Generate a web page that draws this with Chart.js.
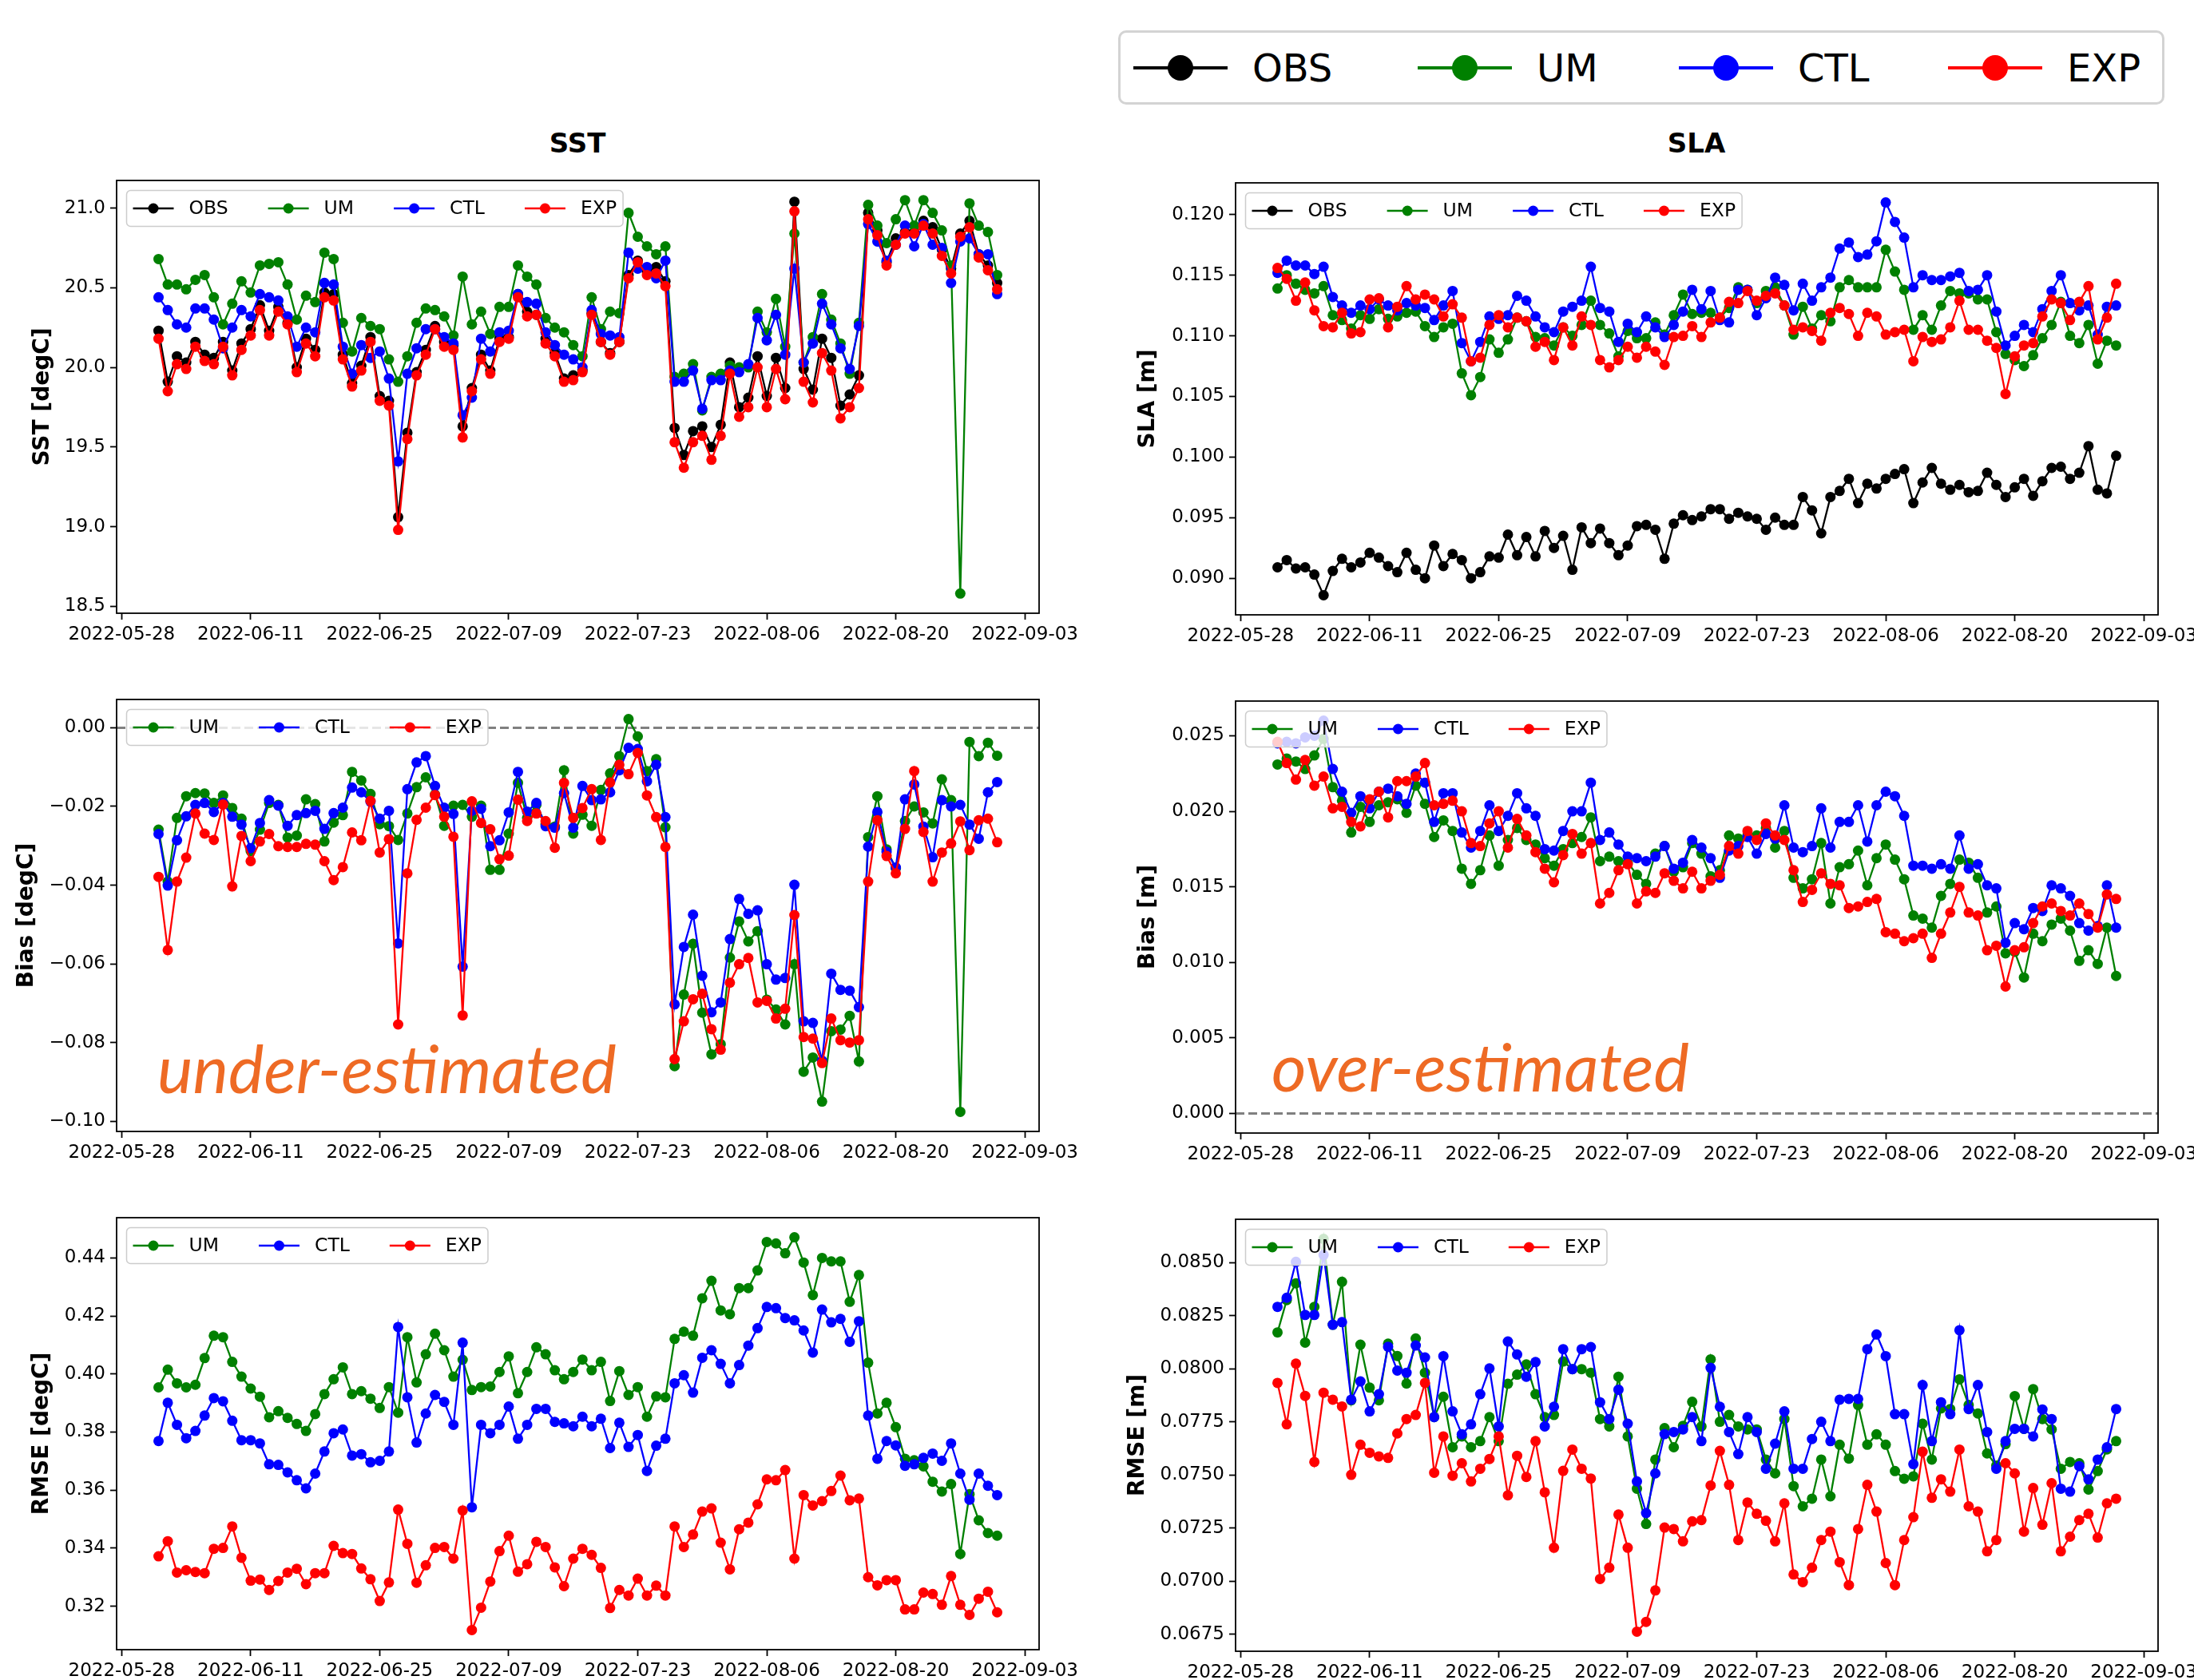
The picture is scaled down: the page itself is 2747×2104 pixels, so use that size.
<!DOCTYPE html>
<html>
<head>
<meta charset="utf-8">
<title>SST / SLA verification</title>
<script src="https://cdn.jsdelivr.net/npm/chart.js@4.4.0/dist/chart.umd.min.js"></script>
<style>
  html, body { margin:0; padding:0; background:#fff; width:2747px; height:2104px; overflow:hidden; position:relative; }
  .colTitle { position:absolute; font: bold 34px "DejaVu Sans"; transform: translate(-50%, -50%); color:#000; }
  .note { position:absolute; font-family: Lato, "Open Sans", sans-serif; font-style: italic; font-size: 84px; line-height: 84px; color:#EE6A24; white-space: nowrap; }
  #bigLegend { position:absolute; left:1400px; top:38px; width:1310px; height:93px; box-sizing:border-box; border:3px solid #d3d3d3; border-radius:10px; font: 48px "DejaVu Sans"; color:#000; }
  .item { position:absolute; top:0; height:87px; display:flex; align-items:center; }
  .handle { position:relative; width:118px; height:32px; margin-right:31px; }
  .handle .ln { position:absolute; left:0; right:0; top:14px; height:4px; }
  .handle .dot { position:absolute; left:43px; top:0; width:32px; height:32px; border-radius:50%; }
</style>
</head>
<body>
<div class="colTitle" style="left:723px; top:179px;">SST</div>
<div class="colTitle" style="left:2124px; top:179px;">SLA</div>
<div id="bigLegend"></div>
<div class="note" style="left:197px; top:1295px;">under-estimated</div>
<div class="note" style="left:1592px; top:1293px;">over-estimated</div>
<script>
var seriesNames = ['OBS', 'UM', 'CTL', 'EXP'];
var seriesColors = {OBS: '#000000', UM: '#008000', CTL: '#0000ff', EXP: '#ff0000'};

// daily dates, 2022-06-01 .. 2022-08-31
var dates = [];
for (var i = 0; i < 92; i++) {
  dates.push(new Date(Date.UTC(2022, 5, 1 + i)).toISOString().slice(0, 10));
}
var xTickDates = ['2022-05-28', '2022-06-11', '2022-06-25', '2022-07-09', '2022-07-23', '2022-08-06', '2022-08-20', '2022-09-03'];

// ---- SST [degC]
var sstObs = [20.23, 19.91, 20.07, 20.03, 20.16, 20.08, 20.06, 20.16, 19.98, 20.15,
  20.24, 20.39, 20.23, 20.38, 20.28, 20.00, 20.18, 20.11, 20.47, 20.46,
  20.08, 19.90, 20.01, 20.19, 19.82, 19.79, 19.06, 19.59, 19.97, 20.11,
  20.26, 20.16, 20.14, 19.63, 19.87, 20.08, 19.98, 20.18, 20.19, 20.46,
  20.35, 20.33, 20.18, 20.09, 19.93, 19.95, 19.98, 20.34, 20.16, 20.09,
  20.16, 20.58, 20.67, 20.60, 20.63, 20.54, 19.62, 19.45, 19.60, 19.63,
  19.50, 19.64, 20.03, 19.75, 19.81, 20.07, 19.82, 20.06, 19.87, 21.04,
  19.99, 19.86, 20.18, 20.06, 19.76, 19.83, 19.95, 20.97, 20.86, 20.66,
  20.81, 20.85, 20.85, 20.92, 20.88, 20.74, 20.62, 20.84, 20.92, 20.71,
  20.64, 20.53];
var sstUm = [20.68, 20.52, 20.52, 20.49, 20.55, 20.58, 20.44, 20.27, 20.40, 20.54,
  20.47, 20.64, 20.65, 20.66, 20.52, 20.30, 20.45, 20.41, 20.72, 20.68,
  20.28, 20.10, 20.31, 20.26, 20.24, 20.05, 19.91, 20.07, 20.28, 20.37,
  20.36, 20.32, 20.20, 20.57, 20.27, 20.35, 20.21, 20.38, 20.38, 20.64,
  20.57, 20.52, 20.31, 20.25, 20.22, 20.14, 20.07, 20.44, 20.24, 20.35,
  20.34, 20.97, 20.82, 20.76, 20.71, 20.76, 19.94, 19.96, 20.02, 19.73,
  19.94, 19.96, 20.01, 20.00, 20.00, 20.35, 20.22, 20.43, 20.13, 20.84,
  20.03, 20.19, 20.46, 20.30, 20.15, 19.96, 20.28, 21.02, 20.89, 20.78,
  20.93, 21.05, 20.89, 21.05, 20.97, 20.86, 20.64, 18.58, 21.03, 20.89,
  20.85, 20.58];
var sstCtl = [20.44, 20.36, 20.27, 20.25, 20.37, 20.37, 20.30, 20.12, 20.25, 20.36,
  20.32, 20.46, 20.44, 20.42, 20.32, 20.13, 20.25, 20.22, 20.53, 20.52,
  20.13, 19.96, 20.14, 20.06, 20.10, 19.93, 19.41, 19.96, 20.12, 20.24,
  20.24, 20.19, 20.15, 19.70, 19.81, 20.18, 20.10, 20.22, 20.23, 20.46,
  20.41, 20.40, 20.22, 20.14, 20.08, 20.05, 20.00, 20.36, 20.21, 20.20,
  20.19, 20.72, 20.62, 20.63, 20.56, 20.67, 19.91, 19.91, 19.98, 19.74,
  19.92, 19.92, 19.98, 19.97, 20.02, 20.31, 20.17, 20.33, 20.08, 20.62,
  20.03, 20.15, 20.40, 20.27, 20.12, 19.99, 20.26, 20.90, 20.79, 20.67,
  20.77, 20.89, 20.76, 20.90, 20.77, 20.75, 20.53, 20.79, 20.81, 20.71,
  20.71, 20.46];
var sstExp = [20.18, 19.85, 20.02, 19.99, 20.13, 20.04, 20.02, 20.13, 19.95, 20.11,
  20.20, 20.36, 20.20, 20.35, 20.27, 19.97, 20.15, 20.07, 20.44, 20.42,
  20.05, 19.88, 19.98, 20.16, 19.79, 19.76, 18.98, 19.55, 19.95, 20.08,
  20.24, 20.13, 20.11, 19.56, 19.85, 20.05, 19.96, 20.16, 20.18, 20.44,
  20.32, 20.33, 20.15, 20.07, 19.91, 19.92, 19.97, 20.33, 20.16, 20.08,
  20.16, 20.56, 20.66, 20.58, 20.59, 20.51, 19.53, 19.37, 19.53, 19.57,
  19.42, 19.57, 19.96, 19.69, 19.75, 20.00, 19.75, 19.99, 19.80, 20.98,
  19.91, 19.78, 20.09, 19.98, 19.68, 19.75, 19.87, 20.93, 20.83, 20.64,
  20.77, 20.84, 20.84, 20.89, 20.84, 20.70, 20.59, 20.82, 20.88, 20.69,
  20.61, 20.49];

// ---- SLA [m]
var slaObs = [0.0909, 0.0915, 0.0908, 0.0909, 0.0903, 0.0886, 0.0906, 0.0916, 0.0909, 0.0913,
  0.0921, 0.0917, 0.0910, 0.0905, 0.0921, 0.0907, 0.0900, 0.0927, 0.0910, 0.0920,
  0.0915, 0.0900, 0.0905, 0.0918, 0.0917, 0.0936, 0.0919, 0.0934, 0.0918, 0.0939,
  0.0925, 0.0935, 0.0907, 0.0942, 0.0929, 0.0941, 0.0929, 0.0919, 0.0927, 0.0943,
  0.0944, 0.0940, 0.0916, 0.0945, 0.0952, 0.0948, 0.0951, 0.0957, 0.0957, 0.0949,
  0.0954, 0.0951, 0.0949, 0.0940, 0.0950, 0.0944, 0.0944, 0.0967, 0.0956, 0.0937,
  0.0967, 0.0972, 0.0982, 0.0962, 0.0978, 0.0974, 0.0982, 0.0986, 0.0990, 0.0962,
  0.0979, 0.0991, 0.0978, 0.0973, 0.0977, 0.0971, 0.0972, 0.0987, 0.0977, 0.0967,
  0.0975, 0.0982, 0.0968, 0.0980, 0.0991, 0.0992, 0.0982, 0.0987, 0.1009, 0.0973,
  0.0970, 0.1001];
var slaUm = [0.1139, 0.1150, 0.1143, 0.1138, 0.1135, 0.1141, 0.1117, 0.1113, 0.1106, 0.1117,
  0.1114, 0.1122, 0.1114, 0.1116, 0.1119, 0.1120, 0.1108, 0.1099, 0.1107, 0.1110,
  0.1069, 0.1051, 0.1066, 0.1097, 0.1086, 0.1097, 0.1115, 0.1112, 0.1099, 0.1098,
  0.1092, 0.1107, 0.1100, 0.1109, 0.1129, 0.1109, 0.1102, 0.1083, 0.1104, 0.1098,
  0.1098, 0.1111, 0.1101, 0.1117, 0.1134, 0.1118, 0.1119, 0.1119, 0.1115, 0.1123,
  0.1140, 0.1138, 0.1127, 0.1137, 0.1140, 0.1125, 0.1101, 0.1124, 0.1106, 0.1117,
  0.1112, 0.1140, 0.1146, 0.1140, 0.1140, 0.1140, 0.1171, 0.1153, 0.1138, 0.1105,
  0.1117, 0.1105, 0.1125, 0.1137, 0.1135, 0.1135, 0.1130, 0.1130, 0.1103, 0.1085,
  0.1080, 0.1075, 0.1084, 0.1098, 0.1109, 0.1128, 0.1100, 0.1094, 0.1109, 0.1077,
  0.1096, 0.1092];
var slaCtl = [0.1152, 0.1162, 0.1158, 0.1158, 0.1151, 0.1157, 0.1132, 0.1125, 0.1119, 0.1125,
  0.1122, 0.1130, 0.1125, 0.1121, 0.1127, 0.1125, 0.1123, 0.1113, 0.1125, 0.1137,
  0.1094, 0.1079, 0.1095, 0.1116, 0.1114, 0.1117, 0.1133, 0.1129, 0.1116, 0.1107,
  0.1103, 0.1120, 0.1124, 0.1129, 0.1157, 0.1123, 0.1120, 0.1095, 0.1110, 0.1103,
  0.1116, 0.1107, 0.1099, 0.1109, 0.1120, 0.1138, 0.1122, 0.1137, 0.1113, 0.1111,
  0.1138, 0.1138, 0.1117, 0.1131, 0.1148, 0.1142, 0.1121, 0.1143, 0.1129, 0.1140,
  0.1148, 0.1172, 0.1177, 0.1165, 0.1167, 0.1178, 0.1210, 0.1194, 0.1181, 0.1140,
  0.1150, 0.1146, 0.1146, 0.1149, 0.1152, 0.1137, 0.1138, 0.1150, 0.1120, 0.1092,
  0.1100, 0.1109, 0.1103, 0.1122, 0.1137, 0.1150, 0.1127, 0.1121, 0.1125, 0.1101,
  0.1124, 0.1125];
var slaExp = [0.1156, 0.1147, 0.1129, 0.1144, 0.1121, 0.1108, 0.1107, 0.1119, 0.1102, 0.1103,
  0.1130, 0.1131, 0.1107, 0.1124, 0.1141, 0.1130, 0.1134, 0.1130, 0.1116, 0.1126,
  0.1115, 0.1079, 0.1082, 0.1109, 0.1117, 0.1107, 0.1115, 0.1112, 0.1091, 0.1095,
  0.1080, 0.1107, 0.1092, 0.1116, 0.1109, 0.1080, 0.1074, 0.1080, 0.1091, 0.1082,
  0.1091, 0.1087, 0.1076, 0.1099, 0.1100, 0.1108, 0.1099, 0.1111, 0.1115, 0.1128,
  0.1127, 0.1137, 0.1129, 0.1133, 0.1135, 0.1125, 0.1105, 0.1107, 0.1104, 0.1096,
  0.1119, 0.1123, 0.1118, 0.1100, 0.1119, 0.1116, 0.1101, 0.1103, 0.1105, 0.1079,
  0.1099, 0.1095, 0.1097, 0.1107, 0.1129, 0.1105, 0.1105, 0.1096, 0.1090, 0.1052,
  0.1083, 0.1092, 0.1094, 0.1116, 0.1130, 0.1127, 0.1113, 0.1128, 0.1141, 0.1097,
  0.1115, 0.1143];

// ---- SST bias [degC]
var biasSstUm = [-0.0259, -0.0391, -0.0229, -0.0174, -0.0166, -0.0167, -0.0191, -0.0172, -0.0204, -0.0231,
  -0.0313, -0.0259, -0.0191, -0.0196, -0.0279, -0.0274, -0.0182, -0.0194, -0.0289, -0.0241,
  -0.0222, -0.0112, -0.0134, -0.0168, -0.0245, -0.0250, -0.0285, -0.0218, -0.0151, -0.0126,
  -0.0170, -0.0249, -0.0198, -0.0196, -0.0226, -0.0198, -0.0361, -0.0361, -0.0269, -0.0140,
  -0.0229, -0.0196, -0.0245, -0.0251, -0.0108, -0.0269, -0.0221, -0.0249, -0.0158, -0.0116,
  -0.0072, 0.0022, -0.0022, -0.0110, -0.0080, -0.0253, -0.0860, -0.0678, -0.0549, -0.0724,
  -0.0830, -0.0804, -0.0584, -0.0492, -0.0543, -0.0517, -0.0691, -0.0716, -0.0754, -0.0601,
  -0.0874, -0.0838, -0.0950, -0.0771, -0.0767, -0.0732, -0.0848, -0.0278, -0.0174, -0.0309,
  -0.0357, -0.0237, -0.0200, -0.0215, -0.0243, -0.0131, -0.0184, -0.0976, -0.0036, -0.0072,
  -0.0038, -0.0071];
var biasSstCtl = [-0.0270, -0.0401, -0.0286, -0.0225, -0.0196, -0.0191, -0.0214, -0.0191, -0.0226, -0.0246,
  -0.0306, -0.0242, -0.0184, -0.0198, -0.0249, -0.0222, -0.0217, -0.0211, -0.0257, -0.0217,
  -0.0203, -0.0152, -0.0164, -0.0188, -0.0231, -0.0211, -0.0548, -0.0156, -0.0088, -0.0072,
  -0.0148, -0.0203, -0.0219, -0.0607, -0.0211, -0.0206, -0.0301, -0.0286, -0.0215, -0.0112,
  -0.0213, -0.0191, -0.0250, -0.0254, -0.0166, -0.0254, -0.0148, -0.0184, -0.0182, -0.0164,
  -0.0108, -0.0051, -0.0054, -0.0136, -0.0094, -0.0227, -0.0703, -0.0557, -0.0475, -0.0630,
  -0.0723, -0.0698, -0.0537, -0.0435, -0.0473, -0.0464, -0.0601, -0.0640, -0.0636, -0.0399,
  -0.0746, -0.0750, -0.0846, -0.0625, -0.0666, -0.0668, -0.0710, -0.0302, -0.0214, -0.0315,
  -0.0355, -0.0182, -0.0144, -0.0251, -0.0329, -0.0184, -0.0200, -0.0196, -0.0246, -0.0282,
  -0.0164, -0.0138];
var biasSstExp = [-0.0379, -0.0565, -0.0391, -0.0330, -0.0218, -0.0269, -0.0285, -0.0195, -0.0403, -0.0275,
  -0.0339, -0.0289, -0.0270, -0.0301, -0.0303, -0.0303, -0.0295, -0.0297, -0.0339, -0.0387,
  -0.0354, -0.0266, -0.0286, -0.0186, -0.0317, -0.0283, -0.0754, -0.0370, -0.0234, -0.0203,
  -0.0171, -0.0226, -0.0277, -0.0731, -0.0187, -0.0242, -0.0258, -0.0334, -0.0325, -0.0183,
  -0.0237, -0.0218, -0.0237, -0.0305, -0.0140, -0.0229, -0.0204, -0.0156, -0.0285, -0.0139,
  -0.0094, -0.0118, -0.0064, -0.0172, -0.0227, -0.0303, -0.0842, -0.0746, -0.0690, -0.0676,
  -0.0766, -0.0818, -0.0648, -0.0601, -0.0585, -0.0698, -0.0694, -0.0739, -0.0714, -0.0476,
  -0.0786, -0.0790, -0.0852, -0.0739, -0.0794, -0.0800, -0.0794, -0.0391, -0.0235, -0.0326,
  -0.0370, -0.0257, -0.0110, -0.0265, -0.0391, -0.0317, -0.0294, -0.0238, -0.0311, -0.0235,
  -0.0231, -0.0291];

// ---- SLA bias [m]
var biasSlaUm = [0.0231, 0.0235, 0.0233, 0.0228, 0.0237, 0.0248, 0.0216, 0.0207, 0.0186, 0.0203,
  0.0193, 0.0204, 0.0206, 0.0208, 0.0199, 0.0217, 0.0205, 0.0183, 0.0194, 0.0187,
  0.0162, 0.0152, 0.0161, 0.0184, 0.0164, 0.0181, 0.0189, 0.0181, 0.0178, 0.0169,
  0.0164, 0.0175, 0.0179, 0.0183, 0.0196, 0.0167, 0.0170, 0.0167, 0.0166, 0.0158,
  0.0152, 0.0172, 0.0177, 0.0160, 0.0163, 0.0179, 0.0172, 0.0157, 0.0161, 0.0184,
  0.0182, 0.0184, 0.0184, 0.0189, 0.0176, 0.0187, 0.0156, 0.0149, 0.0155, 0.0179,
  0.0139, 0.0163, 0.0165, 0.0174, 0.0151, 0.0169, 0.0178, 0.0168, 0.0155, 0.0131,
  0.0129, 0.0123, 0.0144, 0.0152, 0.0168, 0.0166, 0.0156, 0.0133, 0.0137, 0.0106,
  0.0107, 0.0090, 0.0119, 0.0114, 0.0125, 0.0129, 0.0121, 0.0101, 0.0108, 0.0099,
  0.0123, 0.0091];
var biasSlaCtl = [0.0245, 0.0246, 0.0245, 0.0249, 0.0250, 0.0260, 0.0228, 0.0213, 0.0199, 0.0210,
  0.0202, 0.0213, 0.0215, 0.0210, 0.0205, 0.0225, 0.0219, 0.0193, 0.0212, 0.0212,
  0.0186, 0.0176, 0.0187, 0.0204, 0.0187, 0.0197, 0.0212, 0.0202, 0.0197, 0.0175,
  0.0174, 0.0187, 0.0200, 0.0200, 0.0219, 0.0181, 0.0186, 0.0178, 0.0170, 0.0169,
  0.0167, 0.0170, 0.0177, 0.0162, 0.0166, 0.0181, 0.0176, 0.0169, 0.0156, 0.0174,
  0.0177, 0.0183, 0.0172, 0.0185, 0.0182, 0.0204, 0.0176, 0.0173, 0.0177, 0.0202,
  0.0176, 0.0193, 0.0193, 0.0204, 0.0180, 0.0204, 0.0213, 0.0210, 0.0197, 0.0164,
  0.0164, 0.0162, 0.0165, 0.0162, 0.0184, 0.0162, 0.0165, 0.0151, 0.0149, 0.0113,
  0.0126, 0.0122, 0.0136, 0.0134, 0.0151, 0.0149, 0.0144, 0.0126, 0.0121, 0.0124,
  0.0151, 0.0123];
var biasSlaExp = [0.0246, 0.0232, 0.0221, 0.0234, 0.0217, 0.0223, 0.0202, 0.0203, 0.0193, 0.0190,
  0.0208, 0.0213, 0.0196, 0.0220, 0.0220, 0.0223, 0.0232, 0.0204, 0.0205, 0.0207,
  0.0200, 0.0179, 0.0177, 0.0192, 0.0200, 0.0176, 0.0195, 0.0184, 0.0173, 0.0162,
  0.0153, 0.0171, 0.0185, 0.0172, 0.0179, 0.0139, 0.0146, 0.0161, 0.0165, 0.0139,
  0.0147, 0.0146, 0.0159, 0.0154, 0.0149, 0.0160, 0.0149, 0.0154, 0.0158, 0.0177,
  0.0172, 0.0187, 0.0181, 0.0192, 0.0184, 0.0181, 0.0161, 0.0140, 0.0148, 0.0159,
  0.0152, 0.0151, 0.0136, 0.0137, 0.0140, 0.0142, 0.0120, 0.0119, 0.0114, 0.0116,
  0.0119, 0.0103, 0.0119, 0.0133, 0.0150, 0.0133, 0.0131, 0.0108, 0.0111, 0.0084,
  0.0108, 0.0110, 0.0126, 0.0137, 0.0139, 0.0134, 0.0131, 0.0139, 0.0132, 0.0123,
  0.0145, 0.0142];

// ---- SST RMSE [degC]
var rmseSstUm = [0.3954, 0.4015, 0.3968, 0.3954, 0.3963, 0.4055, 0.4132, 0.4127, 0.4042, 0.3991,
  0.3950, 0.3922, 0.3851, 0.3872, 0.3849, 0.3828, 0.3804, 0.3862, 0.3931, 0.3982,
  0.4023, 0.3931, 0.3941, 0.3915, 0.3883, 0.3955, 0.3867, 0.4127, 0.3971, 0.4068,
  0.4139, 0.4082, 0.3991, 0.4049, 0.3945, 0.3955, 0.3957, 0.4007, 0.4061, 0.3934,
  0.4007, 0.4092, 0.4068, 0.4013, 0.3982, 0.4007, 0.4050, 0.4013, 0.4042, 0.3907,
  0.4010, 0.3928, 0.3955, 0.3853, 0.3923, 0.3920, 0.4121, 0.4146, 0.4132, 0.4261,
  0.4321, 0.4219, 0.4206, 0.4296, 0.4296, 0.4357, 0.4455, 0.4450, 0.4416, 0.4471,
  0.4384, 0.4272, 0.4400, 0.4388, 0.4388, 0.4249, 0.4341, 0.4039, 0.3864, 0.3901,
  0.3817, 0.3708, 0.3703, 0.3682, 0.3629, 0.3595, 0.3621, 0.3380, 0.3586, 0.3496,
  0.3452, 0.3443];
var rmseSstCtl = [0.3769, 0.3901, 0.3825, 0.3779, 0.3804, 0.3857, 0.3917, 0.3906, 0.3839, 0.3772,
  0.3772, 0.3761, 0.3689, 0.3687, 0.3661, 0.3634, 0.3606, 0.3657, 0.3733, 0.3796,
  0.3809, 0.3719, 0.3724, 0.3696, 0.3701, 0.3733, 0.4162, 0.3920, 0.3764, 0.3864,
  0.3928, 0.3904, 0.3825, 0.4108, 0.3541, 0.3825, 0.3796, 0.3825, 0.3888, 0.3777,
  0.3825, 0.3880, 0.3880, 0.3835, 0.3830, 0.3820, 0.3853, 0.3820, 0.3846, 0.3745,
  0.3832, 0.3749, 0.3790, 0.3666, 0.3753, 0.3777, 0.3968, 0.3996, 0.3936, 0.4056,
  0.4082, 0.4035, 0.3968, 0.4031, 0.4098, 0.4158, 0.4231, 0.4227, 0.4193, 0.4185,
  0.4150, 0.4074, 0.4222, 0.4178, 0.4190, 0.4111, 0.4182, 0.3857, 0.3708, 0.3769,
  0.3754, 0.3684, 0.3689, 0.3711, 0.3726, 0.3701, 0.3761, 0.3657, 0.3567, 0.3657,
  0.3615, 0.3583];
var rmseSstExp = [0.3372, 0.3424, 0.3316, 0.3324, 0.3318, 0.3314, 0.3398, 0.3401, 0.3475, 0.3367,
  0.3288, 0.3292, 0.3256, 0.3287, 0.3316, 0.3329, 0.3276, 0.3314, 0.3314, 0.3408,
  0.3383, 0.3380, 0.3330, 0.3293, 0.3218, 0.3282, 0.3533, 0.3415, 0.3281, 0.3341,
  0.3401, 0.3404, 0.3364, 0.3530, 0.3118, 0.3195, 0.3285, 0.3390, 0.3443, 0.3319,
  0.3345, 0.3422, 0.3404, 0.3334, 0.3269, 0.3364, 0.3398, 0.3377, 0.3332, 0.3194,
  0.3256, 0.3237, 0.3295, 0.3237, 0.3271, 0.3237, 0.3475, 0.3404, 0.3447, 0.3526,
  0.3537, 0.3419, 0.3327, 0.3465, 0.3488, 0.3551, 0.3637, 0.3634, 0.3669, 0.3364,
  0.3583, 0.3547, 0.3562, 0.3597, 0.3650, 0.3565, 0.3571, 0.3300, 0.3272, 0.3290,
  0.3290, 0.3189, 0.3189, 0.3247, 0.3242, 0.3205, 0.3304, 0.3205, 0.3170, 0.3226,
  0.3250, 0.3179];

// ---- SLA RMSE [m]
var rmseSlaUm = [0.08171, 0.08323, 0.08402, 0.08123, 0.08291, 0.08611, 0.08207, 0.08409, 0.07851, 0.08113,
  0.07911, 0.07851, 0.08118, 0.08060, 0.07930, 0.08142, 0.07981, 0.07772, 0.07868, 0.07630,
  0.07681, 0.07630, 0.07659, 0.07772, 0.07659, 0.07929, 0.07972, 0.08020, 0.07880, 0.07772,
  0.07782, 0.08034, 0.07998, 0.07998, 0.07981, 0.07763, 0.07728, 0.07962, 0.07681, 0.07435,
  0.07269, 0.07572, 0.07720, 0.07630, 0.07731, 0.07844, 0.07728, 0.08044, 0.07750, 0.07782,
  0.07728, 0.07714, 0.07714, 0.07572, 0.07507, 0.07763, 0.07447, 0.07352, 0.07388, 0.07572,
  0.07399, 0.07642, 0.07577, 0.07829, 0.07642, 0.07691, 0.07642, 0.07518, 0.07482, 0.07493,
  0.07741, 0.07572, 0.07813, 0.07810, 0.07950, 0.07829, 0.07789, 0.07601, 0.07544, 0.07645,
  0.07871, 0.07717, 0.07904, 0.07763, 0.07714, 0.07529, 0.07561, 0.07555, 0.07431, 0.07518,
  0.07620, 0.07659];
var rmseSlaCtl = [0.08291, 0.08334, 0.08503, 0.08253, 0.08253, 0.08536, 0.08207, 0.08219, 0.07854, 0.07940,
  0.07799, 0.07880, 0.08103, 0.07991, 0.07981, 0.08109, 0.08053, 0.07772, 0.08059, 0.07799,
  0.07691, 0.07738, 0.07880, 0.08001, 0.07728, 0.08128, 0.08067, 0.07962, 0.08031, 0.07728,
  0.07821, 0.08092, 0.07998, 0.08092, 0.08102, 0.07842, 0.07763, 0.07901, 0.07741, 0.07469,
  0.07320, 0.07507, 0.07692, 0.07702, 0.07714, 0.07772, 0.07659, 0.08004, 0.07821, 0.07702,
  0.07598, 0.07772, 0.07702, 0.07529, 0.07647, 0.07799, 0.07529, 0.07529, 0.07669, 0.07750,
  0.07659, 0.07854, 0.07858, 0.07858, 0.08092, 0.08161, 0.08059, 0.07786, 0.07786, 0.07551,
  0.07923, 0.07659, 0.07842, 0.07786, 0.08181, 0.07810, 0.07923, 0.07702, 0.07529, 0.07659,
  0.07717, 0.07717, 0.07681, 0.07808, 0.07763, 0.07435, 0.07421, 0.07541, 0.07479, 0.07572,
  0.07630, 0.07810];
var rmseSlaExp = [0.07933, 0.07738, 0.08024, 0.07872, 0.07561, 0.07887, 0.07854, 0.07822, 0.07500, 0.07642,
  0.07604, 0.07587, 0.07580, 0.07695, 0.07763, 0.07782, 0.07933, 0.07510, 0.07681, 0.07496,
  0.07555, 0.07469, 0.07529, 0.07575, 0.07681, 0.07404, 0.07590, 0.07490, 0.07659, 0.07418,
  0.07157, 0.07519, 0.07619, 0.07529, 0.07483, 0.07010, 0.07063, 0.07313, 0.07157, 0.06762,
  0.06808, 0.06956, 0.07252, 0.07245, 0.07187, 0.07281, 0.07287, 0.07450, 0.07613, 0.07453,
  0.07193, 0.07370, 0.07317, 0.07284, 0.07187, 0.07366, 0.07031, 0.06995, 0.07063, 0.07193,
  0.07233, 0.07089, 0.06981, 0.07245, 0.07453, 0.07327, 0.07085, 0.06981, 0.07193, 0.07301,
  0.07609, 0.07392, 0.07479, 0.07421, 0.07619, 0.07352, 0.07327, 0.07140, 0.07193, 0.07555,
  0.07507, 0.07233, 0.07438, 0.07265, 0.07461, 0.07140, 0.07209, 0.07287, 0.07317, 0.07205,
  0.07366, 0.07388];

// y tick labels
var sstTicks = [18.5, 19.0, 19.5, 20.0, 20.5, 21.0];
var slaTicks = [0.090, 0.095, 0.100, 0.105, 0.110, 0.115, 0.120];
var biasSstTicks = [-0.10, -0.08, -0.06, -0.04, -0.02, 0.00];
var biasSlaTicks = [0.000, 0.005, 0.010, 0.015, 0.020, 0.025];
var rmseSstTicks = [0.32, 0.34, 0.36, 0.38, 0.40, 0.42, 0.44];
var rmseSlaTicks = [0.0675, 0.0700, 0.0725, 0.0750, 0.0775, 0.0800, 0.0825, 0.0850];

// figure legend entry offsets inside its box (px)
var bigLegendX = [16, 372, 699, 1036];

Chart.defaults.font.family = '"DejaVu Sans", sans-serif';
Chart.defaults.color = '#000';

function dayNo(s) { return (Date.parse(s) - Date.parse('2022-05-28')) / 86400000; }

// dashed zero line (axhline)
var zeroLine = {
  id: 'zeroLine',
  beforeDatasetsDraw: function(chart, args, opts) {
    if (!opts.show) return;
    var a = chart.chartArea, ctx = chart.ctx;
    var y = chart.scales.y.getPixelForValue(0);
    ctx.save();
    ctx.strokeStyle = '#808080';
    ctx.lineWidth = 3;
    ctx.setLineDash([11, 5]);
    ctx.beginPath();
    ctx.moveTo(a.left, y);
    ctx.lineTo(a.right, y);
    ctx.stroke();
    ctx.restore();
  }
};

// matplotlib style frame + legend inside the axes
var boxLegend = {
  id: 'boxLegend',
  afterDraw: function(chart) {
    var ctx = chart.ctx, a = chart.chartArea;
    ctx.save();
    ctx.strokeStyle = '#000';
    ctx.lineWidth = 1.8;
    ctx.strokeRect(a.left, a.top, a.right - a.left, a.bottom - a.top);

    ctx.font = '23.5px "DejaVu Sans"';
    var sets = chart.data.datasets;
    var hl = 51, tp = 19, cs = 50, bp = 8;
    var w = bp * 2;
    sets.forEach(function(s, i) {
      w += hl + tp + ctx.measureText(s.label).width + (i < sets.length - 1 ? cs : 0);
    });
    var x0 = a.left + 12.5, y0 = a.top + 12.5, h = 45;
    ctx.beginPath();
    ctx.roundRect(x0, y0, w, h, 5);
    ctx.fillStyle = 'rgba(255,255,255,0.8)';
    ctx.fill();
    ctx.strokeStyle = '#cccccc';
    ctx.lineWidth = 1.5;
    ctx.stroke();

    var x = x0 + bp, ym = y0 + h / 2;
    sets.forEach(function(s) {
      ctx.strokeStyle = s.borderColor;
      ctx.lineWidth = 2.3;
      ctx.beginPath();
      ctx.moveTo(x, ym);
      ctx.lineTo(x + hl, ym);
      ctx.stroke();
      ctx.fillStyle = s.borderColor;
      ctx.beginPath();
      ctx.arc(x + hl / 2, ym, 6.5, 0, Math.PI * 2);
      ctx.fill();
      ctx.fillStyle = '#000';
      ctx.textBaseline = 'middle';
      ctx.textAlign = 'left';
      ctx.fillText(s.label, x + hl + tp, ym + 1);
      x += hl + tp + ctx.measureText(s.label).width + cs;
    });
    ctx.restore();
  }
};
Chart.register(zeroLine, boxLegend);

var panels = [
  {names: ['OBS', 'UM', 'CTL', 'EXP'], values: [sstObs, sstUm, sstCtl, sstExp], ticks: sstTicks, dec: 1,
   yTitle: 'SST [degC]', area: [146, 226, 1301, 768], width: 1400, titlePad: 37},
  {names: ['OBS', 'UM', 'CTL', 'EXP'], values: [slaObs, slaUm, slaCtl, slaExp], ticks: slaTicks, dec: 3,
   yTitle: 'SLA [m]', area: [1547, 229, 2702, 770], width: 1346, titlePad: 20},
  {names: ['UM', 'CTL', 'EXP'], values: [biasSstUm, biasSstCtl, biasSstExp], ticks: biasSstTicks, dec: 2,
   yTitle: 'Bias [degC]', area: [146, 876, 1301, 1417], width: 1400, titlePad: 17, zero: true},
  {names: ['UM', 'CTL', 'EXP'], values: [biasSlaUm, biasSlaCtl, biasSlaExp], ticks: biasSlaTicks, dec: 3,
   yTitle: 'Bias [m]', area: [1547, 878, 2702, 1419], width: 1346, titlePad: 20, zero: true},
  {names: ['UM', 'CTL', 'EXP'], values: [rmseSstUm, rmseSstCtl, rmseSstExp], ticks: rmseSstTicks, dec: 2,
   yTitle: 'RMSE [degC]', area: [146, 1525, 1301, 2066], width: 1400, titlePad: 36},
  {names: ['UM', 'CTL', 'EXP'], values: [rmseSlaUm, rmseSlaCtl, rmseSlaExp], ticks: rmseSlaTicks, dec: 4,
   yTitle: 'RMSE [m]', area: [1547, 1527, 2702, 2068], width: 1346, titlePad: 7}
];

var xFirst = dayNo(dates[0]), xLast = dayNo(dates[dates.length - 1]);
var xPad = (xLast - xFirst) * 0.05;

panels.forEach(function(p) {
  var cv = document.createElement('canvas');
  var w = p.width, h = p.area[3] - p.area[1] + 60;
  cv.width = w;
  cv.height = h;
  cv.style.cssText = 'position:absolute;left:' + (p.area[0] - 146) + 'px;top:' + (p.area[1] - 10) + 'px;width:' + w + 'px;height:' + h + 'px;';
  document.body.insertBefore(cv, document.body.firstChild);

  // autoscale like matplotlib (5% margins), zero line included for bias panels
  var all = [];
  p.values.forEach(function(v) { all = all.concat(v); });
  if (p.zero) all.push(0);
  var lo = Math.min.apply(null, all), hi = Math.max.apply(null, all);
  var yPad = (hi - lo) * 0.05;

  var sets = p.names.map(function(n, k) {
    return {
      label: n,
      data: p.values[k].map(function(v, i) { return {x: dayNo(dates[i]), y: v}; }),
      borderColor: seriesColors[n],
      backgroundColor: seriesColors[n],
      pointBackgroundColor: seriesColors[n],
      pointBorderColor: seriesColors[n],
      pointBorderWidth: 0,
      pointRadius: 6.5,
      pointHoverRadius: 6.5,
      borderWidth: 2.3,
      tension: 0,
      fill: false,
      order: p.names.length - 1 - k
    };
  });

  new Chart(cv, {
    type: 'line',
    data: {datasets: sets},
    options: {
      responsive: false,
      animation: false,
      devicePixelRatio: 1,
      events: [],
      layout: {padding: {left: 0, top: 10, right: w - 146 - (p.area[2] - p.area[0]), bottom: 0}},
      plugins: {legend: {display: false}, tooltip: {enabled: false}, zeroLine: {show: !!p.zero}},
      scales: {
        x: {
          type: 'linear',
          min: xFirst - xPad,
          max: xLast + xPad,
          afterBuildTicks: function(s) { s.ticks = xTickDates.map(function(d) { return {value: dayNo(d)}; }); },
          afterFit: function(s) { s.height = 50; s.paddingLeft = 0; s.paddingRight = 0; },
          ticks: {
            autoSkip: false, maxRotation: 0, padding: 5,
            font: {size: 23}, color: '#000',
            callback: function(v, i) { return xTickDates[i]; }
          },
          grid: {display: true, drawOnChartArea: false, drawTicks: true, tickLength: 8, tickWidth: 1.8, tickColor: '#000'},
          border: {display: false}
        },
        y: {
          min: lo - yPad,
          max: hi + yPad,
          afterBuildTicks: function(s) { s.ticks = p.ticks.map(function(v) { return {value: v}; }); },
          afterFit: function(s) { s.width = 146; s.paddingTop = 0; s.paddingBottom = 0; },
          ticks: {
            padding: 6, font: {size: 23}, color: '#000',
            callback: function(v) { return Number(v).toFixed(p.dec).replace('-', '\u2212'); }
          },
          grid: {display: true, drawOnChartArea: false, drawTicks: true, tickLength: 8, tickWidth: 1.8, tickColor: '#000'},
          border: {display: false},
          title: {
            display: true, text: p.yTitle, color: '#000',
            font: {size: 28, weight: 'bold'},
            padding: {top: p.titlePad, bottom: 0}
          }
        }
      }
    }
  });
});

// figure-level legend
var big = document.getElementById('bigLegend');
seriesNames.forEach(function(n, k) {
  var it = document.createElement('div');
  it.className = 'item';
  it.style.left = bigLegendX[k] + 'px';
  it.innerHTML = '<div class="handle"><div class="ln" style="background:' + seriesColors[n] + '"></div>' +
    '<div class="dot" style="background:' + seriesColors[n] + '"></div></div><span>' + n + '</span>';
  big.appendChild(it);
});
</script>
</body>
</html>
